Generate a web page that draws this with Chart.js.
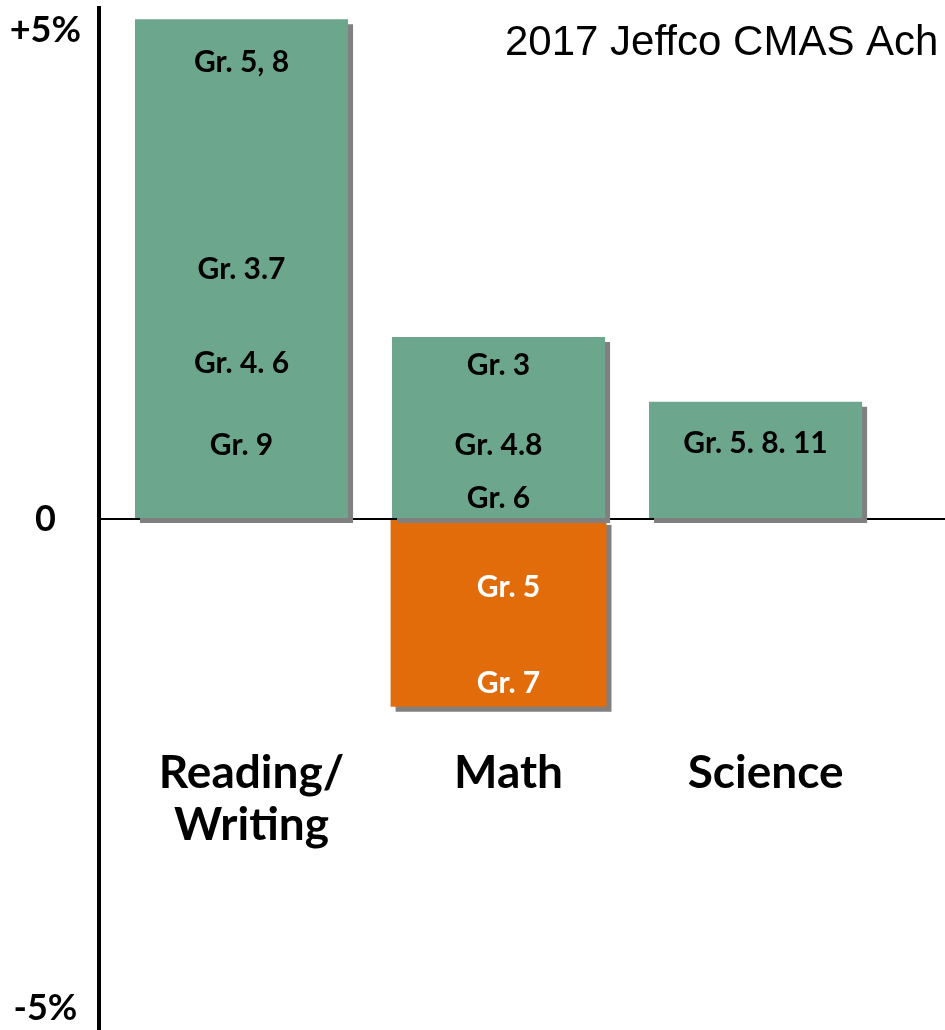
<!DOCTYPE html>
<html>
<head>
<meta charset="utf-8">
<script src="https://cdn.jsdelivr.net/npm/chart.js@4"></script>
<style>
  html, body { margin: 0; padding: 0; background: #fff; }
  #wrap { width: 945px; height: 1030px; position: relative; }
</style>
</head>
<body>
<div id="wrap"><canvas id="cmasCanvas"></canvas></div>
<script>
// 차트 데이터
const categories = [['Reading/', 'Writing'], ['Math'], ['Science']];
const gainValues = [5.11, 1.86, 1.2];      // 상승 (%)
const lossValues = [null, -1.92, null];    // 하락 (%)
const gainGrades = [
  ['Gr. 5, 8', 'Gr. 3.7', 'Gr. 4. 6', 'Gr. 9'],
  ['Gr. 3', 'Gr. 4.8', 'Gr. 6'],
  ['Gr. 5. 8. 11']
];
const lossGrades = [[], ['Gr. 5', 'Gr. 7'], []];
const yTicks = [-5, 0, 5];
const titleText = '2017 Jeffco CMAS Ach';

// 막대 안 라벨 위치 (y축 값 기준, 글자 기준선)
const gainLabelAt = [[4.57, 2.45, 1.49, 0.65], [1.47, 0.65, 0.11], [0.67]];
const lossLabelAt = [[], [-0.8, -1.78], []];

const GREEN = '#6ca68d';
const ORANGE = '#e36c0a';

function toPoints(values) {
  return values
    .map((v, i) => ({ x: i, y: v }))
    .filter(p => p.y !== null);
}

// 카테고리 번호로 막대 요소 찾기
function findBar(chart, datasetIndex, category) {
  const points = chart.data.datasets[datasetIndex].data;
  const j = points.findIndex(p => p.x === category);
  return j < 0 ? null : chart.getDatasetMeta(datasetIndex).data[j];
}

// 막대 그림자
const shadowPlugin = {
  id: 'barShadow',
  beforeDatasetsDraw(chart) {
    const ctx = chart.ctx;
    ctx.save();
    ctx.shadowColor = '#808080';
    ctx.shadowOffsetX = 5;
    ctx.shadowOffsetY = 5;
    ctx.shadowBlur = 0;
  },
  afterDatasetsDraw(chart) {
    chart.ctx.restore();
  }
};

// 제목, 학년 라벨, 과목 이름
const textPlugin = {
  id: 'texts',
  afterDraw(chart) {
    const ctx = chart.ctx;
    const y = chart.scales.y;
    const x = chart.scales.x;
    ctx.save();

    ctx.fillStyle = '#000';
    ctx.textAlign = 'left';
    ctx.textBaseline = 'alphabetic';
    ctx.font = '42px "Liberation Sans", Arial, sans-serif';
    ctx.fillText(titleText, 505, 55);

    ctx.textAlign = 'center';
    ctx.font = 'bold 30px Lato, "Open Sans", sans-serif';
    gainGrades.forEach((labels, i) => {
      const bar = findBar(chart, 0, i);
      if (!bar) return;
      labels.forEach((t, j) => {
        ctx.fillStyle = '#000';
        ctx.fillText(t, bar.x, y.getPixelForValue(gainLabelAt[i][j]));
      });
    });
    lossGrades.forEach((labels, i) => {
      const bar = findBar(chart, 1, i);
      if (!bar) return;
      labels.forEach((t, j) => {
        ctx.fillStyle = '#fff';
        ctx.fillText(t, bar.x + 10, y.getPixelForValue(lossLabelAt[i][j]));
      });
    });

    ctx.fillStyle = '#000';
    ctx.font = 'bold 46px Lato, "Open Sans", sans-serif';
    categories.forEach((lines, i) => {
      const cx = x.getPixelForValue(i) + 10;
      lines.forEach((t, j) => {
        ctx.fillText(t, cx, y.getPixelForValue(-2.75) + j * 52);
      });
    });
    ctx.restore();
  }
};

new Chart(document.getElementById('cmasCanvas'), {
  type: 'bar',
  data: {
    datasets: [
      {
        label: 'gain',
        data: toPoints(gainValues),
        backgroundColor: GREEN,
        borderWidth: 0,
        grouped: false,
        barPercentage: 0.829,
        categoryPercentage: 1
      },
      {
        label: 'loss',
        data: toPoints(lossValues),
        backgroundColor: ORANGE,
        borderWidth: 0,
        grouped: false,
        barPercentage: 0.84,
        categoryPercentage: 1
      }
    ]
  },
  options: {
    responsive: true,
    maintainAspectRatio: false,
    animation: false,
    layout: { padding: { top: 8, right: 0, bottom: 0, left: 0 } },
    plugins: {
      legend: { display: false },
      tooltip: { enabled: false }
    },
    scales: {
      x: {
        type: 'linear',
        offset: false,
        min: -0.5545,
        max: 2.737,
        display: false,
        afterBuildTicks: scale => {
          scale.ticks = categories.map((c, i) => ({ value: i }));
        }
      },
      y: {
        min: -5.225,
        max: 5.225,
        afterBuildTicks: scale => {
          scale.ticks = yTicks.map(v => ({ value: v }));
        },
        afterFit: scale => {
          scale.width = 99;
          scale.paddingTop = 0;
          scale.paddingBottom = 0;
        },
        border: { display: true, color: '#000', width: 4 },
        grid: {
          drawTicks: false,
          lineWidth: 2,
          color: ctx => (ctx.tick && ctx.tick.value === 0 ? '#000' : 'rgba(0,0,0,0)')
        },
        ticks: {
          crossAlign: 'center',
          padding: 18,
          color: '#000',
          font: { family: 'Lato, "Open Sans", sans-serif', size: 36, weight: 'bold' },
          callback: v => (v > 0 ? '+' + v + '%' : v === 0 ? '0' : v + '%')
        }
      }
    }
  },
  plugins: [shadowPlugin, textPlugin]
});
</script>
</body>
</html>
